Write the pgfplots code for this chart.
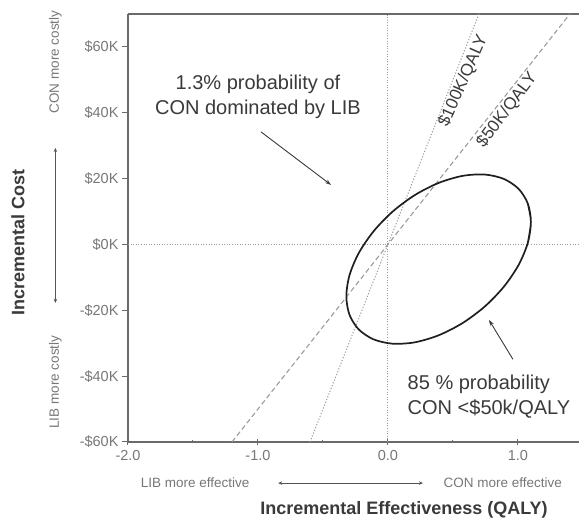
\documentclass[border=0pt]{standalone}
\usepackage{pgfplots}
\pgfplotsset{compat=1.18}
\usepackage{fontspec}
\setmainfont{Liberation Sans}
\usetikzlibrary{arrows.meta}
\definecolor{axgray}{HTML}{6A6A6A}
\definecolor{tickgray}{HTML}{777777}
\definecolor{refgray}{HTML}{9C9C9C}
\definecolor{txt}{HTML}{3A3A3A}
\begin{document}
\begin{tikzpicture}
\begin{axis}[
  at={(128pt,77pt)}, anchor=south west,
  width=451pt, height=428pt, scale only axis,
  xmin=-2, xmax=1.47, ymin=-60, ymax=70,
  clip=false,
  axis x line*=bottom, axis y line*=left,
  axis line style={axgray, line width=1.2pt, -},
  xtick={-2,-1,0,1}, xticklabels={-2.0,-1.0,0.0,1.0},
  minor xtick={-1.5,-0.5,0.5},
  ytick={-60,-40,-20,0,20,40,60},
  yticklabels={-\$60K,-\$40K,-\$20K,\$0K,\$20K,\$40K,\$60K},
  xtick align=center, ytick align=outside,
  major tick length=6pt, minor tick length=3pt,
  tick style={axgray, line width=1pt},
  ticklabel style={font=\fontsize{14.5}{16}\selectfont, text=tickgray},
  xticklabel style={yshift=-2pt},
  xlabel={Incremental Effectiveness (QALY)},
  ylabel={Incremental Cost},
  xlabel style={at={(axis description cs:0.612,-0.159)}, anchor=center,
    font=\fontsize{18}{20}\bfseries, text=txt},
  ylabel style={at={(axis description cs:-0.244,0.467)}, anchor=center,
    rotate=0, font=\fontsize{18}{20}\bfseries, text=txt},
]
% top border
\draw[axgray, line width=1.2pt] (rel axis cs:0,1) -- (rel axis cs:1,1);
% zero reference lines
\addplot[refgray, line width=1pt, dash pattern=on 1pt off 1.6pt] coordinates {(-2,0) (1.47,0)};
\addplot[refgray, line width=1pt, dash pattern=on 1pt off 1.6pt] coordinates {(0,-60) (0,70)};
% $100K/QALY threshold (dotted)
\addplot[refgray, line width=1pt, dash pattern=on 1.2pt off 1.8pt] coordinates {(-0.6,-60) (0.7,70)};
% $50K/QALY threshold (dashed)
\addplot[refgray, line width=1.1pt, dash pattern=on 5pt off 3pt] coordinates {(-1.2,-60) (1.4,70)};
% confidence ellipse
\addplot[black!88, line width=1.7pt, smooth] coordinates {
(1.076,0.46) (1.100,6.84) (1.076,12.44) (1.005,16.90) (0.892,19.90) (0.745,21.24)
(0.574,20.83) (0.390,18.69) (0.206,14.98) (0.035,9.95) (-0.112,3.93) (-0.225,-2.65)
(-0.296,-9.36) (-0.320,-15.74) (-0.296,-21.34) (-0.225,-25.80) (-0.112,-28.80) (0.035,-30.14)
(0.206,-29.73) (0.390,-27.59) (0.574,-23.88) (0.745,-18.85) (0.892,-12.83) (1.005,-6.25)
(1.076,0.46) (1.100,6.84) (1.076,12.44)};
% threshold labels (below-right of their lines)
\node[rotate=66, anchor=north, inner sep=2pt, text=txt, font=\fontsize{17}{19}\selectfont] at (axis cs:0.509,50.9) {\$100K/QALY};
\node[rotate=53, anchor=north, inner sep=2pt, text=txt, font=\fontsize{17}{19}\selectfont] at (axis cs:0.854,42.7) {\$50K/QALY};
% annotations
\node[align=center, text=txt, font=\fontsize{20}{25}\selectfont] at (axis cs:-1.0,44.8)
  {1.3\% probability of\\CON dominated by LIB};
\draw[txt, line width=0.9pt, -{Stealth[length=6pt,width=4pt]}] (axis cs:-0.977,34.2) -- (axis cs:-0.438,18.1);
\node[align=left, anchor=west, text=txt, font=\fontsize{20}{25}\selectfont] at (axis cs:0.125,-46.3)
  {85 \% probability\\CON <\$50k/QALY};
\draw[txt, line width=0.9pt, -{Stealth[length=6pt,width=4pt]}] (axis cs:0.962,-34.9) -- (axis cs:0.777,-22.9);
% direction labels
\node[rotate=90, text=tickgray, font=\fontsize{13.5}{15}\selectfont] at (axis description cs:-0.161,0.888) {CON more costly};
\node[rotate=90, text=tickgray, font=\fontsize{13.5}{15}\selectfont] at (axis description cs:-0.161,0.140) {LIB more costly};
\draw[axgray!80!black, line width=1pt, {Stealth[length=4pt,width=3.5pt]}-{Stealth[length=4pt,width=3.5pt]}]
  (axis description cs:-0.161,0.325) -- (axis description cs:-0.161,0.687);
\node[text=tickgray, font=\fontsize{13.5}{15}\selectfont] at (axis description cs:0.149,-0.096) {LIB more effective};
\node[text=tickgray, font=\fontsize{13.5}{15}\selectfont] at (axis description cs:0.831,-0.096) {CON more effective};
\draw[axgray!80!black, line width=1pt, {Stealth[length=4pt,width=3.5pt]}-{Stealth[length=4pt,width=3.5pt]}]
  (axis description cs:0.333,-0.096) -- (axis description cs:0.654,-0.096);
\end{axis}
\pgfresetboundingbox
\useasboundingbox (0,0) rectangle (579pt,519pt);
\end{tikzpicture}
\end{document}
